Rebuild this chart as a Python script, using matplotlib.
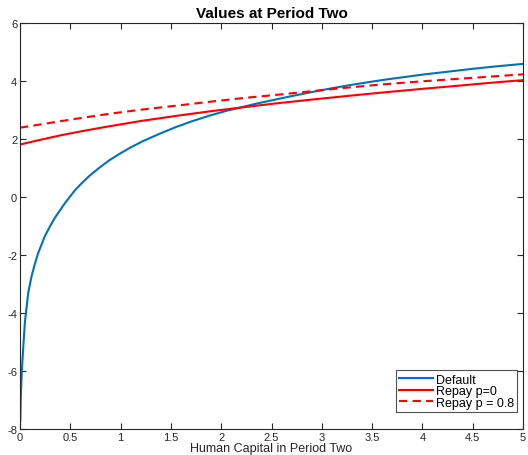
import matplotlib
matplotlib.use("Agg")
import matplotlib.pyplot as plt

plt.rcParams['font.family'] = ['Liberation Sans', 'DejaVu Sans']
plt.rcParams['axes.unicode_minus'] = False

# Default (blue)
default_x = [0.003, 0.008, 0.017, 0.033, 0.049, 0.082, 0.115, 0.15, 0.181, 0.247,
             0.30, 0.346, 0.445, 0.543, 0.62, 0.70, 0.80, 0.889, 1.0, 1.1,
             1.218, 1.38, 1.548, 1.7, 1.877, 2.05, 2.207, 2.35, 2.5, 2.7,
             2.932, 3.1, 3.3, 3.5, 3.656, 3.85, 4.0, 4.25, 4.5, 4.75, 5.0]
default_y = [-7.73, -6.9, -6.06, -5.14, -4.3, -3.30, -2.73, -2.28, -1.93, -1.35,
             -1.00, -0.72, -0.22, 0.22, 0.50, 0.76, 1.04, 1.27, 1.51, 1.71,
             1.92, 2.17, 2.41, 2.60, 2.80, 2.97, 3.10, 3.22, 3.33, 3.48,
             3.64, 3.75, 3.87, 3.98, 4.06, 4.15, 4.22, 4.32, 4.42, 4.51, 4.59]

# Repay p=0 (red solid)
repay0_x = [0.0, 0.2, 0.395, 0.6, 0.889, 1.2, 1.58, 1.9, 2.207, 2.55,
            2.93, 3.3, 3.656, 4.0, 4.3, 4.65, 5.0]
repay0_y = [1.81, 1.97, 2.12, 2.26, 2.44, 2.62, 2.81, 2.96, 3.09, 3.23,
            3.37, 3.50, 3.62, 3.73, 3.82, 3.93, 4.03]

# Repay p = 0.8 (red dashed)
repay8_x = [0.0, 0.2, 0.395, 0.6, 0.889, 1.2, 1.58, 1.9, 2.24, 2.6,
            2.93, 3.25, 3.59, 4.0, 4.5, 5.0]
repay8_y = [2.39, 2.50, 2.61, 2.72, 2.87, 3.01, 3.16, 3.29, 3.42, 3.54,
            3.66, 3.77, 3.88, 3.99, 4.11, 4.23]

xticks = [0, 0.5, 1, 1.5, 2, 2.5, 3, 3.5, 4, 4.5, 5]
xticklabels = ['0', '0.5', '1', '1.5', '2', '2.5', '3', '3.5', '4', '4.5', '5']
yticks = [-8, -6, -4, -2, 0, 2, 4, 6]

fig = plt.figure(figsize=(5.28, 4.56), dpi=100)
ax = fig.add_axes([20/528, 26/456, 503/528, 406/456])

blue = '#0072BD'
ax.plot(default_x, default_y, color=blue, lw=1.5, label='Default')
ax.plot(repay0_x, repay0_y, color='#FF0000', lw=1.5, label='Repay p=0')
ax.plot(repay8_x, repay8_y, color='#FF0000', lw=1.5, ls=(0, (4, 2.5)), label='Repay p = 0.8')

ax.set_xlim(0, 5)
ax.set_ylim(-8, 6)
ax.set_xticks(xticks)
ax.set_xticklabels(xticklabels)
ax.set_yticks(yticks)

axcol = '#262626'
for s in ax.spines.values():
    s.set_color(axcol)
    s.set_linewidth(0.8)
ax.tick_params(direction='in', length=4, width=0.8, colors=axcol, labelsize=8,
               top=True, right=True, pad=2)

ax.set_title('Values at Period Two', fontsize=11, fontweight='bold', pad=4)
ax.set_xlabel('Human Capital in Period Two', fontsize=9, color=axcol, labelpad=0.5)

leg = ax.legend(loc='lower right', bbox_to_anchor=(0.989, 0.041), borderaxespad=0,
                fontsize=9, frameon=True, fancybox=False, handlelength=2.7,
                handletextpad=0.2, labelspacing=-0.05, borderpad=0.3)
leg.get_frame().set_edgecolor(axcol)
leg.get_frame().set_linewidth(0.8)

fig.savefig('out.png', dpi=100)
